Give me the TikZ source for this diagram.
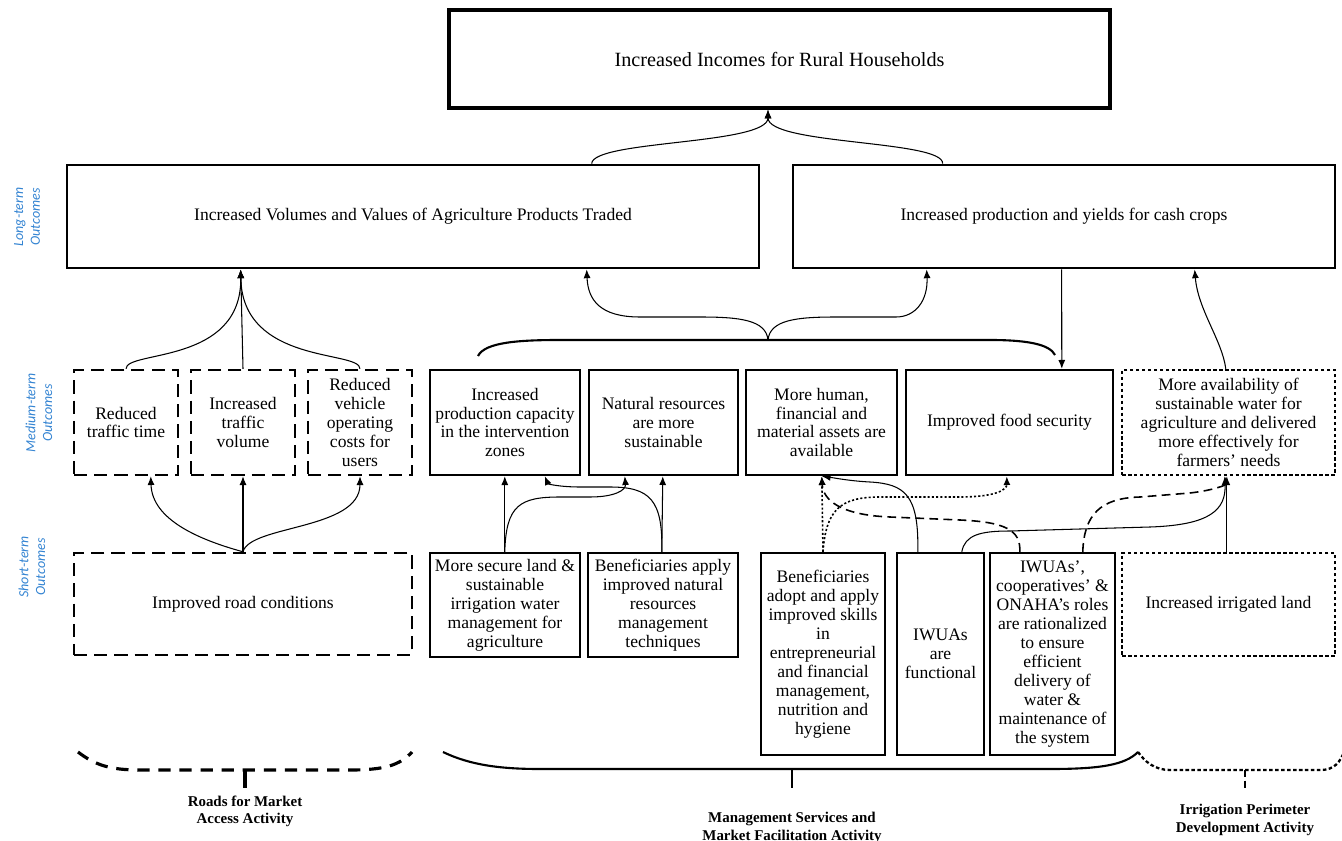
\documentclass[tikz,border=0pt]{standalone}
\usepackage{fontspec}
\setmainfont{Liberation Serif}
\newfontfamily\lblfont{Carlito}
\usepackage{tikz}
\usetikzlibrary{positioning,calc,arrows.meta}
\definecolor{lblblue}{RGB}{52,132,210}

\tikzset{
    outbox/.style={draw, line width=1.4pt, inner sep=0pt, align=center, font=\fontsize{10}{10.8}\selectfont},
    dashbox/.style={outbox, dash pattern=on 7.5pt off 4pt},
    dotbox/.style={outbox, dash pattern=on 2pt off 1.4pt},
    midrow/.style={minimum height=2.10cm},
    conn/.style={line width=0.6pt, -{Latex[length=5pt,width=4pt]}},
    dotconn/.style={conn, line width=0.9pt, dash pattern=on 1.2pt off 1.2pt},
    dashconn/.style={conn, line width=0.9pt, dash pattern=on 5pt off 3pt},
    tier/.style={rotate=90, text=lblblue, align=center, font=\lblfont\itshape\fontsize{8}{9.5}\selectfont},
    activity/.style={align=center, font=\fontsize{8.5}{9.8}\selectfont\bfseries}
}

\begin{document}
\begin{tikzpicture}[x=0.02cm,y=-0.02cm]
    \useasboundingbox (0,0) rectangle (1342,841);

    \node[outbox, line width=1.8pt, font=\fontsize{11.5}{13}\selectfont, minimum width=13.22cm, minimum height=1.96cm] (top) at (779.5,59) {Increased Incomes for Rural Households};
    \node[outbox, line width=1.6pt, minimum width=13.84cm, minimum height=2.06cm] (ltL) at (413,216.5) {Increased Volumes and Values of Agriculture Products Traded};
    \node[outbox, line width=1.6pt, minimum width=10.84cm, minimum height=2.06cm] (ltR) at (1064,216.5) {Increased production and yields for cash crops};

    \node[dashbox, midrow, minimum width=2.08cm] (mRt) at (126,422.5) {Reduced\\traffic time};
    \node[dashbox, midrow, minimum width=2.08cm] (mTv) at (243,422.5) {Increased\\traffic\\volume};
    \node[dashbox, midrow, minimum width=2.08cm] (mVc) at (360,422.5) {Reduced\\vehicle\\operating\\costs for\\users};
    \node[outbox, midrow, minimum width=3.00cm] (mPc) at (505,422.5) {Increased\\production capacity\\in the intervention\\zones};
    \node[outbox, midrow, minimum width=2.98cm] (mNr) at (663.5,422.5) {Natural resources\\are more\\sustainable};
    \node[outbox, midrow, minimum width=3.02cm] (mHa) at (821.5,422.5) {More human,\\financial and\\material assets are\\available};
    \node[outbox, midrow, minimum width=4.14cm] (mFs) at (1009.5,422.5) {Improved food security};
    \node[dotbox, midrow, minimum width=4.26cm] (mWa) at (1228.5,422.5) {More availability of\\sustainable water for\\agriculture and delivered\\more effectively for\\farmers’ needs};

    \node[dashbox, minimum width=6.76cm, minimum height=2.04cm] (sRc) at (243,604) {Improved road conditions};
    \node[outbox, minimum width=3.00cm, minimum height=2.08cm] (sSl) at (505,605) {More secure land \&\\sustainable\\irrigation water\\management for\\agriculture};
    \node[outbox, minimum width=3.00cm, minimum height=2.08cm] (sNr) at (663,605) {Beneficiaries apply\\improved natural\\resources\\management\\techniques};
    \node[outbox, minimum width=2.48cm, minimum height=4.04cm] (sSk) at (823,654) {Beneficiaries\\adopt and apply\\improved skills\\in\\entrepreneurial\\and financial\\management,\\nutrition and\\hygiene};
    \node[outbox, minimum width=1.74cm, minimum height=4.04cm] (sFn) at (940.5,654) {IWUAs\\are\\functional};
    \node[outbox, minimum width=2.50cm, minimum height=4.04cm] (sRl) at (1052.5,654) {IWUAs’,\\cooperatives’ \&\\ONAHA’s roles\\are rationalized\\to ensure\\efficient\\delivery of\\water \&\\maintenance of\\the system};
    \node[dotbox, minimum width=4.26cm, minimum height=2.06cm] (sIl) at (1228.5,604.5) {Increased irrigated land};

    \node[tier] (tLong) at (27,217) {Long-term\\Outcomes};
    \node[tier] (tMed) at (39,413) {Medium-term\\Outcomes};
    \node[tier] (tShort) at (32,567) {Short-term\\Outcomes};

    \draw[conn] ($(ltL.north west)+(526,0)$) .. controls (593,140) and (768,145) .. (top.south -| 768,0);
    \draw[conn] ($(ltR.north west)+(151,0)$) .. controls (944,140) and (768,145) .. (top.south -| 768,0);

    \draw[conn] (mRt.north) .. controls (126,350) and (242,365) .. ($(ltL.south west)+(175,0)$);
    \draw[conn] (mTv.north) -- ($(ltL.south west)+(175,0)$);
    \draw[conn] (mVc.north) .. controls (360,350) and (242,365) .. ($(ltL.south west)+(175,0)$);

    \draw[conn] (sRc.north) .. controls (200,540) and (152,520) .. ($(mRt.south west)+(78,0)$);
    \draw[conn] (sRc.north) -- (mTv.south);
    \draw[conn] (sRc.north) .. controls (250,525) and (360,530) .. (mVc.south);

    \draw[line width=1.2pt] (478,356) .. controls (485,342) and (520,340) .. (560,340) -- (990,340) .. controls (1030,340) and (1050,345) .. (1055,355);
    \coordinate (cusp) at (768,340);
    \draw[conn] (cusp) .. controls (766,320) and (740,317) .. (700,317) -- (640,317) .. controls (600,317) and (588,300) .. ($(ltL.south west)+(521,0)$);
    \draw[conn] (cusp) .. controls (770,320) and (796,317) .. (836,317) -- (896,317) .. controls (916,317) and (928,300) .. ($(ltR.south west)+(135,0)$);

    \draw[conn] ($(ltR.south west)+(270,0)$) -- ($(mFs.north west)+(157,0)$);
    \draw[conn] ($(mWa.north west)+(105,0)$) .. controls (1222,340) and (1198,310) .. ($(ltR.south west)+(403,0)$);

    \draw[conn] ($(sSl.north west)+(76,0)$) -- ($(mPc.south west)+(76,0)$);
    \draw[conn] ($(sSl.north west)+(76,0)$) .. controls (506,505) and (520,497) .. (560,497) -- (590,497) .. controls (615,497) and (626,490) .. ($(mNr.south west)+(37,0)$);
    \draw[conn] ($(sNr.north west)+(75,0)$) -- ($(mNr.south west)+(75,0)$);
    \draw[conn] ($(sNr.north west)+(75,0)$) .. controls (663,500) and (650,487) .. (610,487) -- (580,487) .. controls (560,487) and (548,484) .. ($(mPc.south west)+(116,0)$);

    \draw[dotconn] (sSk.north) -- ($(mHa.south west)+(77,0)$);
    \draw[dotconn] (sSk.north) .. controls (826,510) and (840,497) .. (880,497) -- (960,497) .. controls (995,497) and (1007,490) .. ($(mFs.south west)+(102,0)$);
    \draw[conn] ($(sFn.north west)+(22,0)$) .. controls (919,495) and (905,484) .. (870,482) .. controls (850,481) and (835,478) .. ($(mHa.south west)+(77,0)$);
    \draw[dashconn] ($(sRl.north west)+(31,0)$) .. controls (1021,530) and (1005,522) .. (960,520) -- (890,517) .. controls (840,515) and (823,500) .. ($(mHa.south west)+(77,0)$);
    \draw[dashconn] ($(sRl.north west)+(94,0)$) .. controls (1084,515) and (1100,498) .. (1140,497) -- (1190,493) .. controls (1215,490) and (1226,485) .. ($(mWa.south west)+(104,0)$);
    \draw[conn] ($(sFn.north west)+(66,0)$) .. controls (965,535) and (980,531) .. (1010,531) -- (1150,527) .. controls (1210,525) and (1226,510) .. ($(mWa.south west)+(104,0)$);
    \draw[conn] ($(sIl.north west)+(106,0)$) -- ($(mWa.south west)+(106,0)$);

    \draw[line width=1.8pt, dash pattern=on 7pt off 5pt] (78,752) .. controls (95,765) and (110,770) .. (140,770) -- (350,770) .. controls (385,770) and (400,765) .. (412,752);
    \draw[line width=1.8pt] (245,770) -- (245,788);
    \node[activity] (aRoad) at (245,811) {Roads for Market\\Access Activity};

    \draw[line width=1.2pt] (443,752) .. controls (470,765) and (500,769) .. (540,769) -- (1050,769) .. controls (1100,769) and (1125,765) .. (1138,752);
    \draw[line width=0.7pt] (792,769) -- (792,788);
    \node[activity] (aMgmt) at (792,828) {Management Services and\\Market Facilitation Activity};

    \draw[line width=1.3pt, dash pattern=on 2pt off 1.4pt] (1138,752) .. controls (1145,762) and (1155,770) .. (1170,770) -- (1320,770) .. controls (1335,770) and (1340,762) .. (1345,750);
    \draw[line width=1.3pt, dash pattern=on 4pt off 2pt] (1245,770) -- (1245,790);
    \node[activity] (aIrr) at (1245,820) {Irrigation Perimeter\\Development Activity};
\end{tikzpicture}
\end{document}
